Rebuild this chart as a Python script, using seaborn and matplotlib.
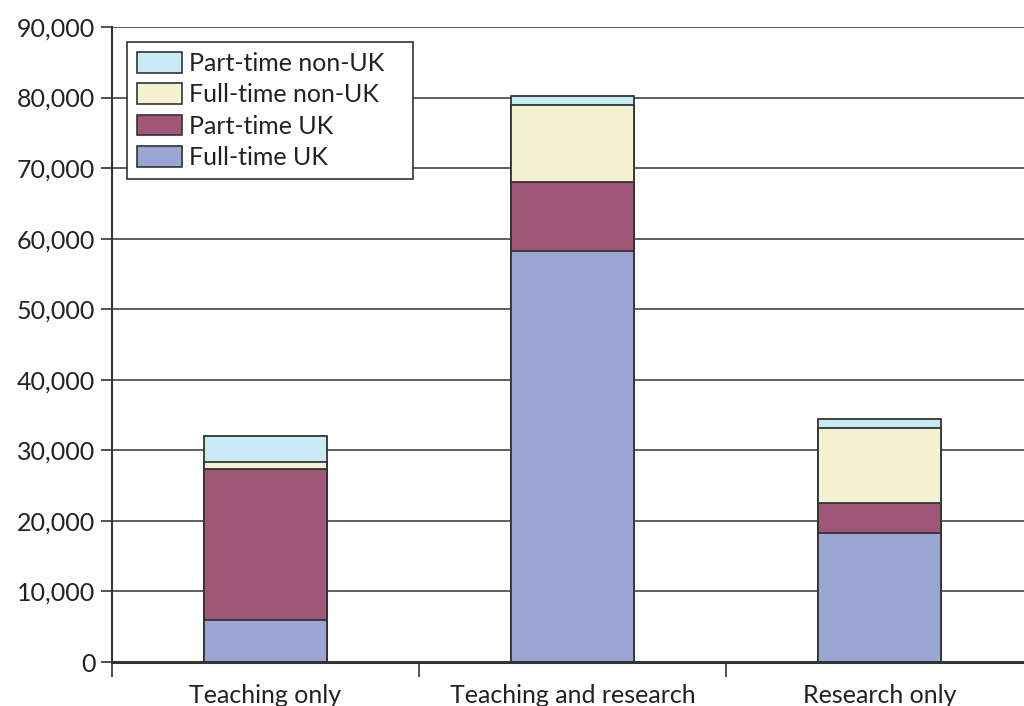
import matplotlib
matplotlib.use("Agg")
import matplotlib.pyplot as plt
import seaborn as sns
import pandas as pd
import numpy as np
from matplotlib.patches import Patch
from matplotlib.ticker import FuncFormatter, FixedLocator

categories = ["Teaching only", "Teaching and research", "Research only"]
full_time_uk = [6000, 58200, 18250]
part_time_uk = [21350, 9900, 4300]
full_time_non_uk = [950, 10900, 10570]
part_time_non_uk = [3700, 1150, 1330]

series_names = ["Full-time UK", "Part-time UK", "Full-time non-UK", "Part-time non-UK"]
series_values = [full_time_uk, part_time_uk, full_time_non_uk, part_time_non_uk]
colors = ["#9AA5D3", "#A05677", "#F3F2D3", "#C8EAF3"]

sns.set_theme(style="white")
plt.rcParams['font.family'] = ['Lato', 'DejaVu Sans']

FS = 18

fig = plt.figure(figsize=(10.24, 7.06), dpi=100)
ax = fig.add_axes([112/1024, 1-662/706, (1033-112)/1024, (662-27)/706])

cum = np.cumsum(np.array(series_values), axis=0)
for i in range(len(series_names) - 1, -1, -1):
    df = pd.DataFrame({"category": categories, "value": cum[i]})
    sns.barplot(data=df, x="category", y="value", ax=ax, color=colors[i],
                width=0.4, edgecolor="#333333", linewidth=1.3, saturation=1,
                order=categories)

ax.set_ylim(0, 90000)
ax.set_xlim(-0.5, 2.5)
ax.yaxis.set_major_locator(FixedLocator(np.arange(0, 90001, 10000)))
ax.yaxis.set_major_formatter(FuncFormatter(lambda v, p: f"{int(v):,}"))
ax.grid(axis="y", color="#333333", linewidth=1.1)
ax.set_axisbelow(True)
ax.set_xlabel("")
ax.set_ylabel("")

for s in ["top", "right"]:
    ax.spines[s].set_visible(False)
for s in ["left", "bottom"]:
    ax.spines[s].set_color("#333333")
    ax.spines[s].set_linewidth(1.5)
ax.spines["bottom"].set_linewidth(2.2)

ax.set_xticks([0, 1, 2])
ax.set_xticklabels(categories, fontsize=FS, color="#222222")
ax.tick_params(axis="x", length=0, pad=16)
ax.set_xticks([-0.5, 0.5, 1.5, 2.5], minor=True)
ax.tick_params(axis="x", which="minor", length=11, width=1.2, color="#333333", bottom=True)
ax.tick_params(axis="y", labelsize=FS, labelcolor="#222222", length=8, width=1.2,
               color="#333333", left=True, pad=4)

handles = [Patch(facecolor=colors[i], edgecolor="#333333", linewidth=1.2, label=series_names[i])
           for i in range(len(series_names) - 1, -1, -1)]
leg_w = (413 - 127) / 921
leg_h = (178 - 42) / 635
leg = ax.legend(handles=handles, loc="upper left",
                bbox_to_anchor=(0.016, 0.976 - leg_h, leg_w, leg_h), mode="expand",
                fontsize=FS, frameon=True, fancybox=False, edgecolor="#333333",
                framealpha=1, borderpad=0.4, handlelength=1.8, handleheight=0.9,
                handletextpad=0.3, labelspacing=0.33, borderaxespad=0)
leg.get_frame().set_linewidth(1.2)
for t in leg.get_texts():
    t.set_color("#222222")

fig.savefig("out.png", dpi=100)
